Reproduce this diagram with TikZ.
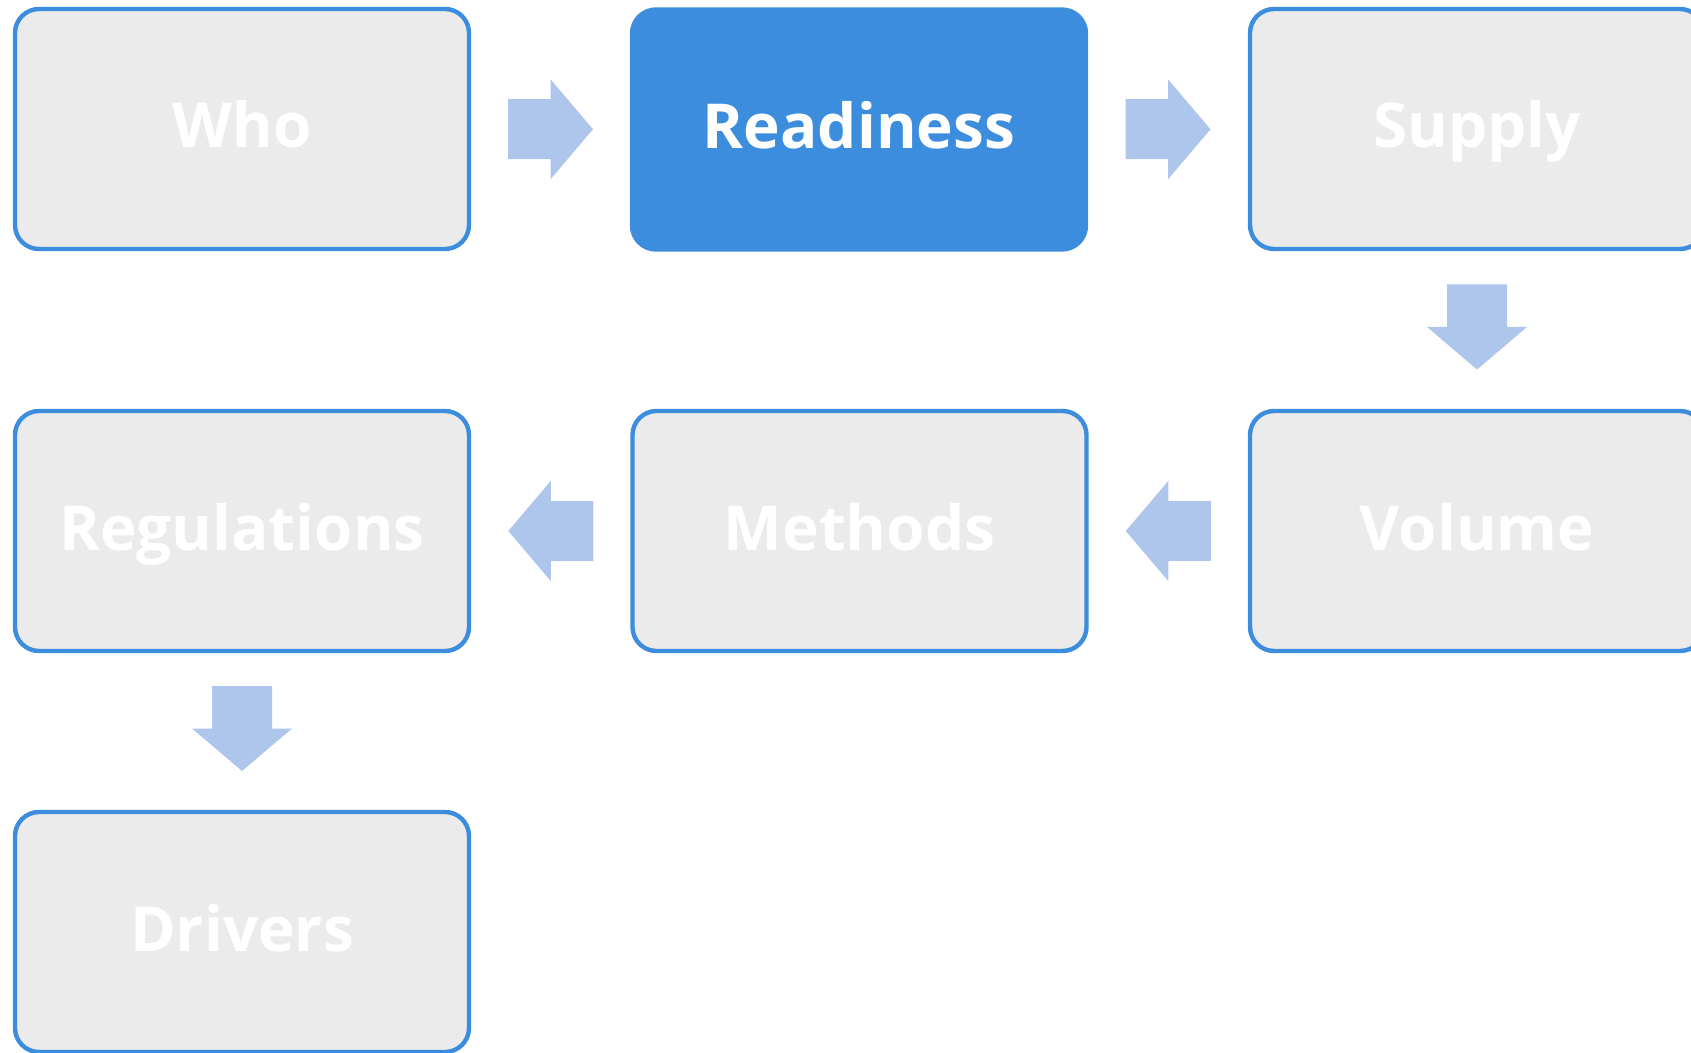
\documentclass[tikz,border=0pt]{standalone}
\usepackage{fontspec}
\setmainfont{Open Sans}
\usetikzlibrary{calc}
\definecolor{boxblue}{HTML}{3C8DDE}
\definecolor{boxgrey}{HTML}{EBEBEB}
\definecolor{arrowfill}{HTML}{AEC6EB}
\tikzset{
  stepbox/.style={draw=boxblue, line width=2.2pt, fill=boxgrey, rounded corners=12pt,
    minimum width=227pt, minimum height=120pt, inner sep=0pt, text=white,
    text height=25pt, text depth=6pt,
    font=\fontsize{31}{37}\selectfont\bfseries},
  activebox/.style={stepbox, fill=boxblue},
  flowarrow/.pic={\fill[arrowfill] (-42.5,-30) -- (0,-30) -- (0,-50) -- (42.5,0) -- (0,50) -- (0,30) -- (-42.5,30) -- cycle;}
}
\begin{document}
\begin{tikzpicture}[x=0.5pt,y=-0.5pt]
\useasboundingbox (0,0) rectangle (1691,1053);
\clip (0,0) rectangle (1691,1053);
\node[stepbox] (who) at (242,129) {Who};
\node[activebox] (ready) at (859,129.5) {Readiness};
\node[stepbox] (supply) at (1477,129) {Supply};
\node[stepbox] (volume) at (1477,531) {Volume};
\node[stepbox] (methods) at (859.5,531) {Methods};
\node[stepbox] (regs) at (242,531) {Regulations};
\node[stepbox] (drivers) at (242,932) {Drivers};
\pic at ($(who.east)!0.5!(ready.west)$) {flowarrow};
\pic at ($(ready.east)!0.5!(supply.west)$) {flowarrow};
\pic[rotate=-90] at ($(supply.south)!0.5!(volume.north)+(0,-3)$) {flowarrow};
\pic[rotate=180] at ($(volume.west)!0.5!(methods.east)$) {flowarrow};
\pic[rotate=180] at ($(methods.west)!0.5!(regs.east)$) {flowarrow};
\pic[rotate=-90] at ($(regs.south)!0.5!(drivers.north)+(0,-3)$) {flowarrow};
\end{tikzpicture}
\end{document}
